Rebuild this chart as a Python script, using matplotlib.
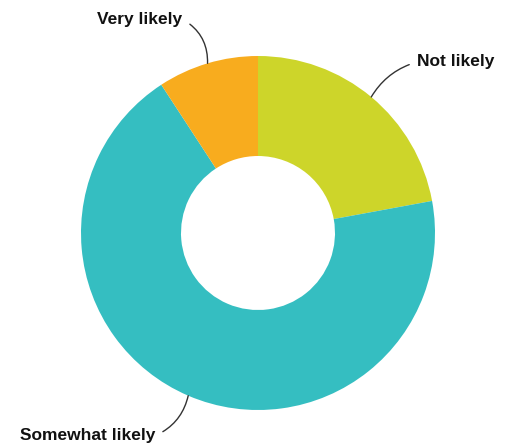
import numpy as np
import matplotlib
matplotlib.use("Agg")
import matplotlib.pyplot as plt

categories = ["Not likely", "Somewhat likely", "Very likely"]
values = [22.1, 68.7, 9.2]
colors = ["#CDD52A", "#35BEC1", "#F8AC1E"]

W, H = 511, 448
fig = plt.figure(figsize=(W / 100, H / 100), dpi=100)
ax = fig.add_axes([0, 0, 1, 1])

cx, cy, R = 258, H - 233, 177
wedges, _ = ax.pie(values, colors=colors, startangle=90, counterclock=False,
                   center=(cx, cy), radius=R,
                   wedgeprops=dict(width=R - 77, linewidth=0),
                   frame=True)
ax.set_xlim(0, W)
ax.set_ylim(0, H)
ax.set_aspect("equal")
ax.axis("off")

label_cfg = {
    "Not likely": dict(dxy=(46, 35), ha="left", rad=0.2, rel=(0, 0.5)),
    "Somewhat likely": dict(dxy=(-33, -40), ha="right", rad=0.25, rel=(1, 0.5)),
    "Very likely": dict(dxy=(-25, 44), ha="right", rad=-0.3, rel=(1, 0.5)),
}
for w, name in zip(wedges, categories):
    ang = np.deg2rad((w.theta1 + w.theta2) / 2)
    ex, ey = cx + R * np.cos(ang), cy + R * np.sin(ang)
    cfg = label_cfg[name]
    tx, ty = ex + cfg["dxy"][0], ey + cfg["dxy"][1]
    ax.annotate(name, xy=(ex, ey), xytext=(tx, ty), ha=cfg["ha"], va="center",
                fontsize=12.5, fontweight="bold", family="Liberation Sans",
                color="#111111",
                arrowprops=dict(arrowstyle="-", color="#333333", lw=1,
                                shrinkA=4, shrinkB=0, relpos=cfg["rel"],
                                connectionstyle=f"arc3,rad={cfg['rad']}"))

fig.savefig("out.png", dpi=100)
